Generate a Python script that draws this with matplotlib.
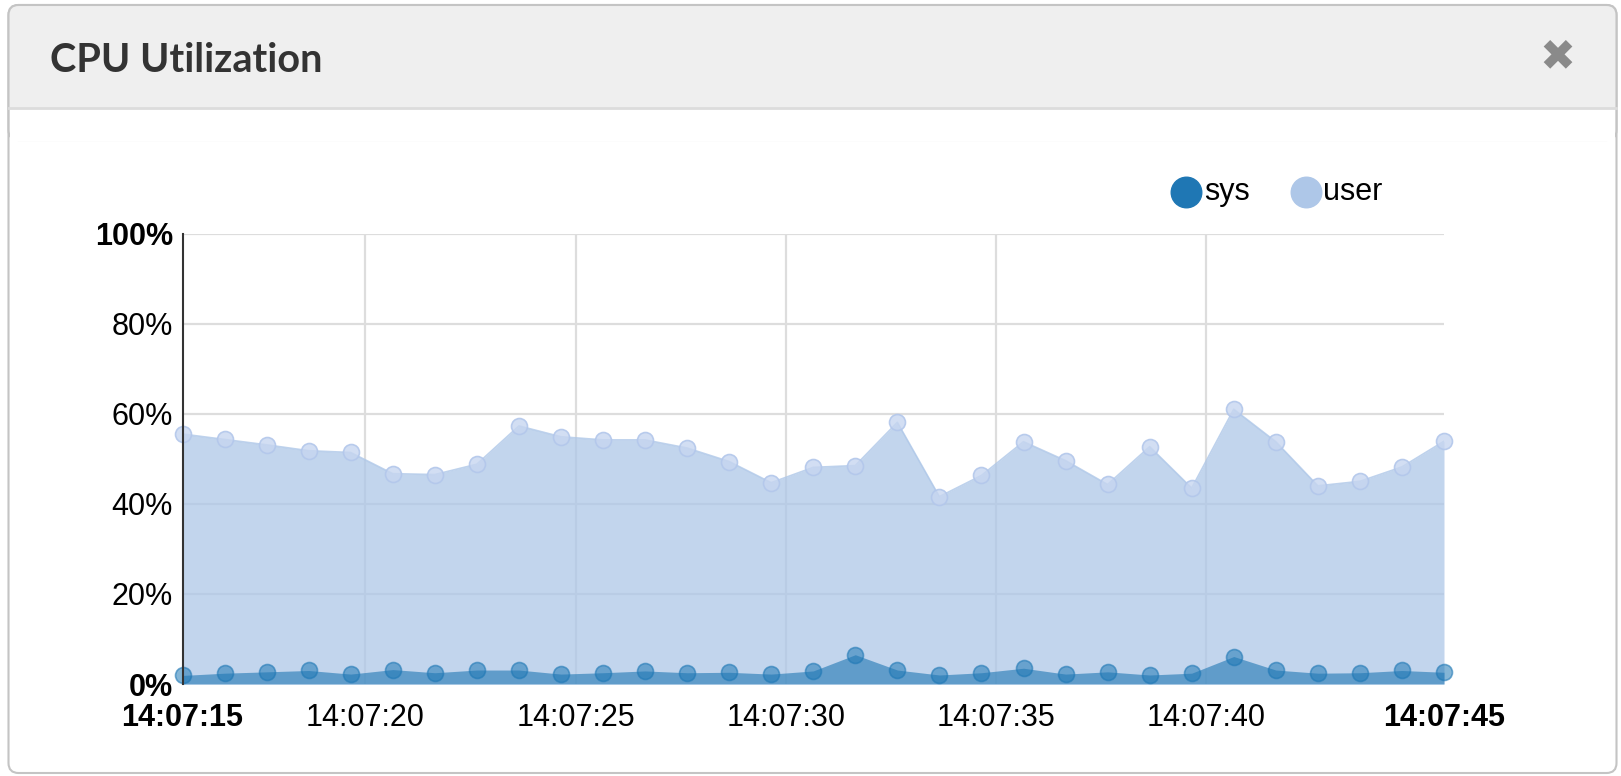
import matplotlib
matplotlib.use("Agg")
import numpy as np
import pandas as pd
import matplotlib.pyplot as plt
import matplotlib.dates as mdates
from matplotlib.patches import FancyBboxPatch, Rectangle
from matplotlib.lines import Line2D
from matplotlib.transforms import IdentityTransform

# --- data ---
times = pd.date_range("2016-01-01 14:07:15.65", periods=31, freq="1s")
user = [55.5, 54.3, 53.1, 51.8, 51.4, 46.7, 46.5, 48.8, 57.3, 54.9, 54.2,
        54.2, 52.4, 49.4, 44.7, 48.1, 48.5, 58.1, 41.6, 46.3, 53.8, 49.6,
        44.3, 52.7, 43.5, 61.0, 53.8, 44.0, 45.0, 48.2, 53.9]
sys_ = [1.9, 2.4, 2.7, 3.0, 2.2, 3.2, 2.5, 3.1, 3.1, 2.2, 2.5, 2.9, 2.5,
        2.6, 2.2, 2.9, 6.5, 3.1, 2.0, 2.5, 3.5, 2.2, 2.7, 2.0, 2.4, 6.1,
        3.1, 2.4, 2.5, 3.0, 2.6]
xtick_times = ["14:07:20", "14:07:25", "14:07:30", "14:07:35", "14:07:40"]
ytick_vals = [0, 20, 40, 60, 80, 100]
series_names = ["sys", "user"]
series_colors = ["#1f77b4", "#aec7e8"]

W, H = 1621, 776
fig = plt.figure(figsize=(W / 100, H / 100), dpi=100)
fig.patch.set_facecolor("white")
ident = IdentityTransform()

def py(y):
    # top-origin pixel -> display pixel
    return H - y

# panel frame + header
panel = FancyBboxPatch((8.5, py(773)), 1608, 768, boxstyle="round,pad=0,rounding_size=10",
                       transform=ident, facecolor="white", edgecolor="#c4c4c4", lw=1.5, zorder=-10)
header = FancyBboxPatch((8.5, py(140)), 1608, 135, boxstyle="round,pad=0,rounding_size=10",
                        transform=ident, facecolor="#efefef", edgecolor="#c4c4c4", lw=1.5, zorder=-9)
cover = Rectangle((10, py(141)), 1605, 32, transform=ident, facecolor="white",
                  edgecolor="none", zorder=-8)
fig.patches.extend([panel, header, cover])
fig.add_artist(Line2D([9, 1616], [py(108), py(108)], transform=ident, color="#dcdcdc",
                      lw=2, zorder=-7))

fig.text(50 / W, 1 - 60 / H, "CPU Utilization", family="Lato", weight="bold",
         fontsize=28.5, color="#333333", va="center", ha="left")
fig.text(1557 / W, 1 - 57 / H, "\u2716", family="DejaVu Sans", fontsize=31,
         color="#8a8a8a", va="center", ha="center")

# --- chart ---
ax = fig.add_axes([182.5 / W, 92 / H, (1444 - 182.5) / W, (684 - 233.6) / H])
ax.patch.set_alpha(0)
x = mdates.date2num(times)
ax.set_xlim(x[0], x[-1])
ax.set_ylim(0, 100)

grid_x = mdates.date2num(pd.to_datetime(["2016-01-01 " + t for t in xtick_times]))
for gx in grid_x:
    ax.axvline(gx, color="#dddddd", lw=1.6, zorder=0)
for gy in ytick_vals[1:]:
    ax.axhline(gy, color="#dddddd", lw=1.6, zorder=0)

ax.fill_between(x, 0, user, color=series_colors[1], alpha=0.75, lw=0, zorder=1)
ax.plot(x, user, color=series_colors[1], lw=1.2, alpha=0.8, zorder=2)
ax.plot(x, user, "o", ms=11.5, mfc=(0.78, 0.84, 0.94, 0.8), mec=(0.70, 0.78, 0.92, 0.9),
        mew=1.2, zorder=3, clip_on=False)
ax.fill_between(x, 0, sys_, color=series_colors[0], alpha=0.6, lw=0, zorder=4)
ax.plot(x, sys_, "o", ms=11.5, mfc=(0.12, 0.47, 0.71, 0.55), mec=(0.12, 0.47, 0.71, 0.6),
        mew=1.2, zorder=5, clip_on=False)

for s in ["top", "right", "bottom"]:
    ax.spines[s].set_visible(False)
ax.spines["left"].set_color("#333333")
ax.spines["left"].set_linewidth(1.5)
ax.spines["left"].set_zorder(6)

ax.set_yticks(ytick_vals)
ax.set_yticklabels([f"{v}%" for v in ytick_vals], family="Liberation Sans", fontsize=22)
ax.get_yticklabels()[0].set_fontweight("bold")
ax.get_yticklabels()[-1].set_fontweight("bold")

xt = [x[0]] + list(grid_x) + [x[-1]]
xl = [times[0].strftime("%H:%M:%S")] + xtick_times + [times[-1].strftime("%H:%M:%S")]
ax.set_xticks(xt)
ax.set_xticklabels(xl, family="Liberation Sans", fontsize=22)
ax.get_xticklabels()[0].set_fontweight("bold")
ax.get_xticklabels()[-1].set_fontweight("bold")
ax.tick_params(axis="both", length=0, colors="black")
ax.tick_params(axis="y", pad=7)
ax.tick_params(axis="x", pad=14)

# legend
leg_pos = [(1186, 1204), (1306, 1323)]
for name, col, (cx, tx) in zip(series_names, series_colors, leg_pos):
    fig.add_artist(Line2D([cx], [py(192)], transform=ident, marker="o", ms=22,
                          mfc=col, mec=col, ls="none"))
    fig.text(tx / W, 1 - 192 / H, name, family="Liberation Sans", fontsize=22,
             va="center", ha="left")

fig.savefig("out.png", dpi=100)
